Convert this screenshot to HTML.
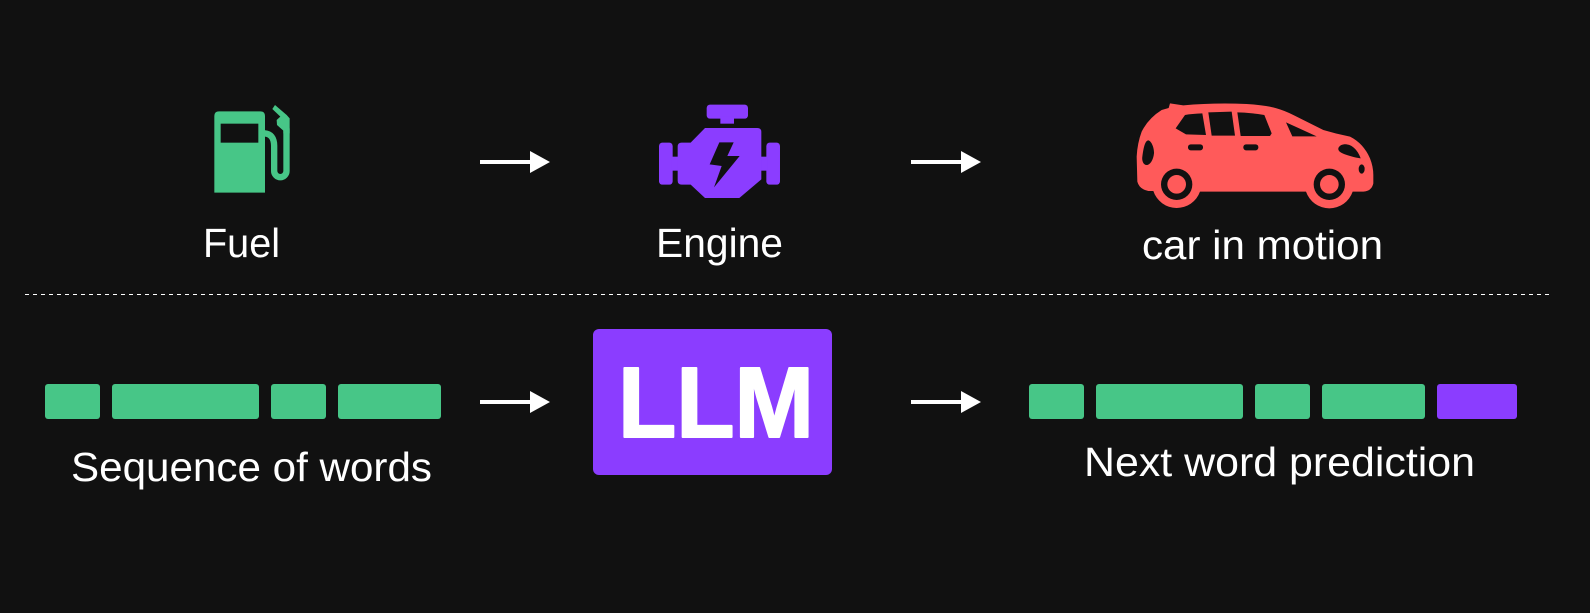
<!DOCTYPE html>
<html><head><meta charset="utf-8"><style>html,body{margin:0;padding:0;background:#111}svg{display:block}text{font-family:"Liberation Sans",sans-serif;fill:#fff}</style></head><body>
<svg width="1590" height="613" viewBox="0 0 1590 613" xmlns="http://www.w3.org/2000/svg">
<rect width="1590" height="613" fill="#111111"/>
<g transform="translate(205,100) scale(.33333)">
<path d="M42 34H166Q180 34 180 48V278H28V48Q28 34 42 34Z" fill="#47C687"/>
<rect x="47" y="71" width="113" height="57" fill="#111"/>
<path d="M178 100Q207 102 207.5 137V213A18.5 18.5 0 0 0 244.5 213V85" fill="none" stroke="#47C687" stroke-width="19"/>
<path d="M210 15L202 27L226 50L215 60L216 75L235 92V100H254V55L245 45Z" fill="#47C687"/>
</g>
<g transform="translate(650,100) scale(.33333)" fill="#8B3DFF">
<rect x="170" y="14" width="124" height="42" rx="10"/>
<rect x="211" y="50" width="41" height="21"/>
<rect x="27" y="128" width="41" height="126" rx="10"/>
<rect x="349" y="128" width="41" height="126" rx="10"/>
<rect x="65" y="170" width="25" height="42"/>
<rect x="328" y="170" width="24" height="42"/>
<path d="M165 84H322Q334 84 334 96V238L268 294H165L122 254H95Q83 254 83 242V140Q83 128 95 128H122Z"/>
<path d="M208 127H251L232 168H269L192 262L215 198L179 193Z" fill="#111"/>
</g>
<g transform="translate(1120,90) scale(.33333)">
<path d="M150 40L190 46Q280 38 380 42Q440 46 470 55Q495 62 520 75L610 120Q650 132 690 140Q730 160 750 205Q760 230 760 255V280Q755 303 730 305H698A74 74 0 0 1 558 305H240A74 74 0 0 1 100 303H85Q58 298 52 275L50 200Q52 160 65 125Q85 85 125 60L146 54Z" fill="#FF5A5A"/>
<g fill="#111">
<path d="M195 75Q215 71 247 70L258 135L198 133L167 115Z"/>
<path d="M265 67L335 65L345 137H275Z"/>
<path d="M352 67Q395 68 433 75L455 130L450 138H362Z"/>
<path d="M498 97L590 139H517Z"/>
<rect x="204" y="163" width="45" height="18" rx="8"/>
<rect x="370" y="163" width="45" height="18" rx="8"/>
<path d="M85 151C95 153 103 175 102 190C100 210 90 225 80 225C70 225 65 212 67 200C70 175 75 151 85 151Z"/>
<path d="M655 175C658 165 670 162 680 163C700 165 715 185 722 205C705 203 685 197 672 192C660 187 654 182 655 175Z"/>
<ellipse cx="725" cy="237" rx="9" ry="14"/>
<circle cx="170" cy="283" r="47"/>
<circle cx="628" cy="283" r="47"/>
</g>
<circle cx="170" cy="283" r="28" fill="#FF5A5A"/>
<circle cx="628" cy="283" r="28" fill="#FF5A5A"/>
</g>
<g fill="#fff">
<path d="M480 160H530V151L550 162L530 173V164H480Z"/>
<path d="M911 160H961V151L981 162L961 173V164H911Z"/>
<path d="M480 400H530V391L550 402L530 413V404H480Z"/>
<path d="M911 400H961V391L981 402L961 413V404H911Z"/>
</g>
<line x1="25" y1="294.5" x2="1551" y2="294.5" stroke="#fff" stroke-width="1" stroke-dasharray="4 4"/>
<g fill="#47C687">
<rect x="45" y="384" width="55" height="35" rx="3"/>
<rect x="112" y="384" width="147" height="35" rx="3"/>
<rect x="271" y="384" width="55" height="35" rx="3"/>
<rect x="338" y="384" width="103" height="35" rx="3"/>
<rect x="1029" y="384" width="55" height="35" rx="3"/>
<rect x="1096" y="384" width="147" height="35" rx="3"/>
<rect x="1255" y="384" width="55" height="35" rx="3"/>
<rect x="1322" y="384" width="103" height="35" rx="3"/>
</g>
<rect x="1437" y="384" width="80" height="35" rx="3" fill="#8B3DFF"/>
<rect x="593" y="329" width="239" height="146" rx="6" fill="#8B3DFF"/>
<text x="618" y="437" font-size="100" font-weight="700" textLength="196" lengthAdjust="spacingAndGlyphs" stroke="#fff" stroke-width="2" stroke-linejoin="round">LLM</text>
<text x="203" y="257" font-size="41" textLength="77" lengthAdjust="spacingAndGlyphs">Fuel</text>
<text x="656" y="257" font-size="41" textLength="127" lengthAdjust="spacingAndGlyphs">Engine</text>
<text x="1142" y="259" font-size="41" textLength="241" lengthAdjust="spacingAndGlyphs">car in motion</text>
<text x="71" y="481" font-size="41" textLength="361" lengthAdjust="spacingAndGlyphs">Sequence of words</text>
<text x="1084" y="476" font-size="41" textLength="391" lengthAdjust="spacingAndGlyphs">Next word prediction</text>
</svg>
</body></html>
